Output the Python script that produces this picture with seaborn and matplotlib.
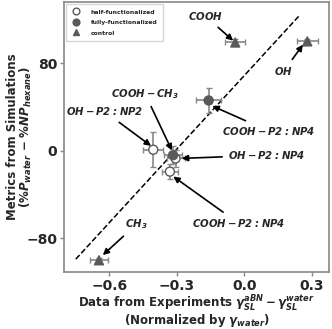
import numpy as np
import pandas as pd
import matplotlib
matplotlib.use('Agg')
import matplotlib.pyplot as plt
import seaborn as sns

# ---- data ----
labels = ['OH-P2:NP2', 'COOH-P2:NP4 (half)', 'OH-P2:NP4', 'COOH-CH3',
          'COOH-P2:NP4 (fully)', 'COOH', 'OH', 'CH3']
groups = ['half-functionalized', 'half-functionalized', 'half-functionalized',
          'fully-functionalized', 'fully-functionalized',
          'control', 'control', 'control']
exp_x = [-0.404, -0.330, -0.305, -0.316, -0.158, -0.040, 0.280, -0.645]
sim_y = [1.0, -19.0, -7.0, -4.0, 46.0, 99.0, 100.0, -100.0]
x_err = [0.044, 0.035, 0.040, 0.040, 0.054, 0.044, 0.047, 0.040]
y_err = [16.0, 7.0, 8.0, 8.0, 11.0, 3.0, 2.0, 2.0]

# dashed guide line ends
line_x = [-0.748, 0.244]
line_y = [-99.0, 123.4]

df = pd.DataFrame({'x': exp_x, 'y': sim_y, 'xerr': x_err, 'yerr': y_err,
                   'group': groups, 'label': labels})

sns.set_style('white')
plt.rcParams['font.family'] = ['DejaVu Sans']
plt.rcParams['mathtext.fontset'] = 'dejavusans'
plt.rcParams['mathtext.default'] = 'bfit'

fig, ax = plt.subplots(figsize=(3.32, 3.29), dpi=100)
fig.subplots_adjust(left=0.193, right=0.992, bottom=0.174, top=0.994)

ax.plot(line_x, line_y, ls='--', color='black', lw=1.1, zorder=1)

ax.errorbar(df['x'], df['y'], xerr=df['xerr'], yerr=df['yerr'], fmt='none',
            ecolor='#888888', elinewidth=1.2, capsize=2.5, capthick=1, zorder=2)

pal = {'half-functionalized': 'white', 'fully-functionalized': '#5a5a5a',
       'control': '#5a5a5a'}
mk = {'half-functionalized': 'o', 'fully-functionalized': 'o', 'control': '^'}
sns.scatterplot(data=df, x='x', y='y', hue='group', style='group',
                palette=pal, markers=mk, edgecolor='#5a5a5a', linewidth=1,
                s=42, zorder=3, ax=ax,
                hue_order=['half-functionalized', 'fully-functionalized', 'control'])

leg = ax.legend(loc='upper left', fontsize=4.4, frameon=True, handletextpad=1.6,
                borderpad=0.9, labelspacing=0.85, borderaxespad=0.3,
                markerscale=0.75, handlelength=1.6)
for t in leg.get_texts():
    t.set_fontweight('bold')
for h in leg.legend_handles:
    try:
        h.set_markeredgecolor('#5a5a5a')
    except AttributeError:
        h.set_edgecolor('#5a5a5a')

# ---- annotations ----
arrow = dict(arrowstyle='-|>', color='black', lw=1.2, mutation_scale=9)
tk = dict(fontsize=7.3, ha='center', va='center')
notes = [
    (r'$COOH$', (-0.040, 99), (-0.172, 123)),
    (r'$OH$', (0.268, 99), (0.176, 73)),
    (r'$COOH-CH_3$', (-0.316, -2), (-0.44, 52)),
    (r'$OH-P2\:\!:\:\!NP2$', (-0.404, 3), (-0.621, 36)),
    (r'$COOH-P2\:\!:\:\!NP4$', (-0.153, 42), (0.110, 18)),
    (r'$OH-P2\:\!:\:\!NP4$', (-0.29, -7), (0.101, -4)),
    (r'$COOH-P2\:\!:\:\!NP4$', (-0.325, -22), (-0.026, -66)),
    (r'$CH_3$', (-0.637, -97), (-0.478, -67)),
]
for txt, xy, xyt in notes:
    ax.annotate(txt, xy=xy, xytext=xyt, arrowprops=arrow, **tk)

ax.set_xlim(-0.80, 0.378)
ax.set_ylim(-110.5, 136)
ax.set_xticks([-0.6, -0.3, 0.0, 0.3])
ax.set_yticks([-80, 0, 80])
ax.tick_params(axis='both', labelsize=10, length=3, width=1, direction='out',
               bottom=True, left=True, color='#888888', pad=2)
for lab in ax.get_xticklabels() + ax.get_yticklabels():
    lab.set_fontweight('bold')
for s in ax.spines.values():
    s.set_color('#888888')
    s.set_linewidth(1.2)

ax.set_xlabel('Data from Experiments $\\gamma_{SL}^{aBN}-\\gamma_{SL}^{water}$\n'
              '(Normalized by $\\gamma_{water}$)',
              fontsize=8.5, fontweight='bold', linespacing=0.8)
ax.xaxis.set_label_coords(0.5, -0.083)
ax.set_ylabel('Metrics from Simulations\n'
              '(%$P_{water}$ $-$ %$NP_{hexane}$)',
              fontsize=8.5, fontweight='bold', linespacing=0.85)
ax.yaxis.set_label_coords(-0.115, 0.5)

fig.savefig('out.png', dpi=100)
